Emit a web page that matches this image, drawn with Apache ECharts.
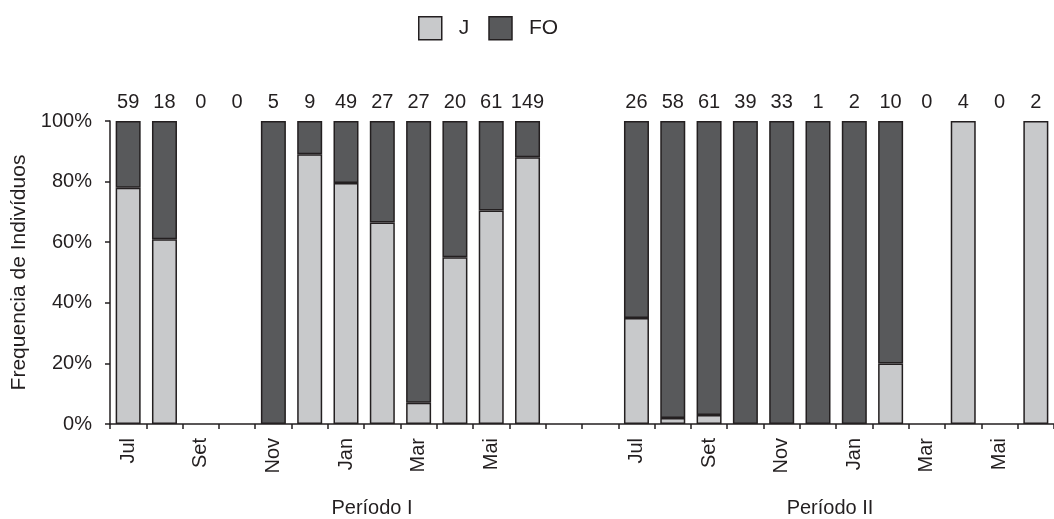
<!DOCTYPE html>
<html>
<head>
<meta charset="utf-8">
<script src="https://cdn.jsdelivr.net/npm/echarts@6/dist/echarts.min.js"></script>
<style>
html,body{margin:0;padding:0;background:#fff;}
#chart{width:1054px;height:519px;}
</style>
</head>
<body>
<div id="chart"></div>
<script>
var months = ['Jul','Ago','Set','Out','Nov','Dez','Jan','Fev','Mar','Abr','Mai','Jun','','','Jul','Ago','Set','Out','Nov','Dez','Jan','Fev','Mar','Abr','Mai','Jun'];
var counts = ['59','18','0','0','5','9','49','27','27','20','61','149','','','26','58','61','39','33','1','2','10','0','4','0','2'];
var jPct  = [78, 61, null, null, null, 89, 79.5, 66.5, 7, 55, 70.5, 88, null, null, 35, 2, 3, null, null, null, null, 20, null, 100, null, 100];
var foPct = [22, 39, null, null, 100, 11, 20.5, 33.5, 93, 45, 29.5, 12, null, null, 65, 98, 97, 100, 100, 100, 100, 80, null, null, null, null];
var periods = ['Período I', 'Período II'];

var font = 'Liberation Sans, Arial, sans-serif';
var ink = '#231f20';
var chart = echarts.init(document.getElementById('chart'));
chart.setOption({
  animation: false,
  textStyle: {fontFamily: font, color: ink},
  legend: {
    top: 11, left: 413,
    icon: 'rect',
    itemWidth: 23, itemHeight: 23, itemGap: 19,
    itemStyle: {borderColor: ink, borderWidth: 1.5},
    textStyle: {fontSize: 21, color: ink, fontFamily: font, padding: [0, 0, 0, 12]},
    data: ['J', 'FO']
  },
  grid: {left: 110, top: 121, width: 956, height: 303},
  xAxis: [{
    type: 'category', data: months, position: 'bottom',
    axisLine: {lineStyle: {color: ink, width: 1.5}},
    axisTick: {show: true, interval: 0, length: 5, lineStyle: {color: ink, width: 1.5}},
    axisLabel: {interval: 1, rotate: 90, fontSize: 20, color: ink, margin: 14, fontFamily: font}
  }, {
    type: 'category', data: counts, position: 'top',
    axisLine: {show: false}, axisTick: {show: false},
    axisLabel: {interval: 0, fontSize: 20, color: ink, margin: 9, fontFamily: font}
  }],
  yAxis: {
    type: 'value', min: 0, max: 100, interval: 20,
    name: 'Frequencia de Indivíduos', nameLocation: 'middle', nameGap: 79,
    nameTextStyle: {fontSize: 21, color: ink, fontFamily: font},
    axisLine: {show: true, lineStyle: {color: ink, width: 1.5}},
    axisTick: {show: true, length: 5, lineStyle: {color: ink, width: 1.5}},
    splitLine: {show: false},
    axisLabel: {formatter: '{value}%', fontSize: 20, color: ink, margin: 18, fontFamily: font}
  },
  series: [{
    name: 'J', type: 'bar', stack: 'a', data: jPct, barWidth: 25,
    itemStyle: {color: '#c8c9cb', borderColor: ink, borderWidth: 1.5}
  }, {
    name: 'FO', type: 'bar', stack: 'a', data: foPct, barWidth: 25,
    itemStyle: {color: '#58595b', borderColor: ink, borderWidth: 1.5}
  }],
  graphic: [
    {type: 'text', x: 372, y: 508, style: {text: periods[0], fontSize: 20, fill: ink, fontFamily: font, align: 'center', verticalAlign: 'middle'}},
    {type: 'text', x: 830, y: 508, style: {text: periods[1], fontSize: 20, fill: ink, fontFamily: font, align: 'center', verticalAlign: 'middle'}}
  ]
});
</script>
</body>
</html>
